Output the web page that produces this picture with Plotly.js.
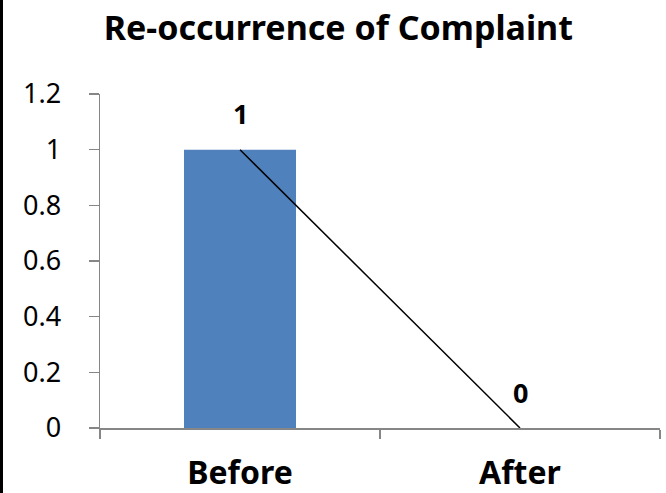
<!DOCTYPE html>
<html><head><meta charset="utf-8">
<script src="https://cdn.plot.ly/plotly-3.0.1.min.js"></script>
<style>html,body{margin:0;padding:0;background:#fff;}#chart{width:666px;height:493px;}</style>
</head><body><div id="chart"></div>
<script>
const categories = ["Before", "After"];
const barValues = [1, 0];
const lineValues = [1, 0];
const labelText = ["1", "0"];
const yTicks = [0, 0.2, 0.4, 0.6, 0.8, 1, 1.2];
const yTickText = ["0", "0.2", "0.4", "0.6", "0.8", "1", "1.2"];

const narrow = '"Noto Sans", sans-serif';
const traces = [
  {type: 'bar', x: categories, y: barValues, width: 0.4, marker: {color: '#4F81BD'}, hoverinfo: 'none'},
  {type: 'scatter', mode: 'lines', x: categories, y: lineValues, line: {color: '#000000', width: 1.5}, hoverinfo: 'none'}
];
const annotations = categories.map((c, i) => ({
  x: c, y: lineValues[i], xref: 'x', yref: 'y', text: labelText[i], showarrow: false,
  yshift: 36, font: {family: narrow, size: 27, color: '#000', weight: 'bold'}
}));
const layout = {
  width: 666, height: 493,
  margin: {l: 100, r: 6, t: 94, b: 65},
  paper_bgcolor: '#fff', plot_bgcolor: '#fff',
  showlegend: false,
  title: {text: '<b>Re-occurrence of Complaint</b>', x: 0.508, xanchor: 'center', y: 0.968, yanchor: 'top',
          font: {family: narrow, size: 34, color: '#000'}},
  xaxis: {type: 'category', range: [-0.5, 1.5], showgrid: false, zeroline: false,
          showline: true, linecolor: '#868686', linewidth: 1.5,
          ticks: 'outside', tickson: 'boundaries', ticklen: 9, tickcolor: '#868686', tickwidth: 1.5,
          ticklabelstandoff: 16,
          tickfont: {family: narrow, size: 32, color: '#000', weight: 'bold'}},
  yaxis: {range: [0, 1.2], tickvals: yTicks, ticktext: yTickText, showgrid: false, zeroline: false,
          showline: true, linecolor: '#868686', linewidth: 1.5,
          ticks: 'outside', ticklen: 10, tickcolor: '#868686', tickwidth: 1.5,
          ticklabelstandoff: 22,
          tickfont: {family: 'Noto Sans, sans-serif', size: 27, color: '#000'}},
  annotations: annotations,
  shapes: [{type: 'line', xref: 'paper', yref: 'paper', x0: -98.5/560, x1: -98.5/560, y0: -65/334, y1: 1 + 94/334,
            line: {color: '#000', width: 3}}]
};
Plotly.newPlot('chart', traces, layout, {displayModeBar: false, staticPlot: true});
</script></body></html>
